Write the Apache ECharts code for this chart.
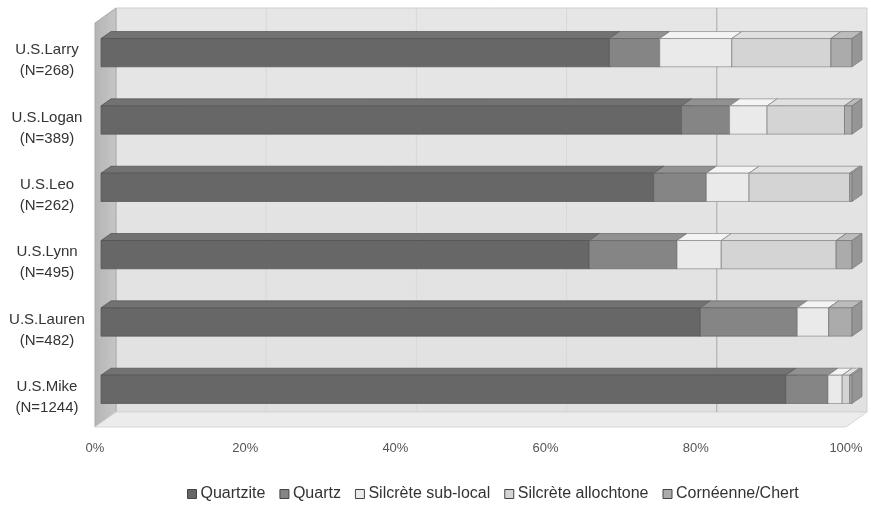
<!DOCTYPE html>
<html>
<head>
<meta charset="utf-8">
<script src="https://cdn.jsdelivr.net/npm/echarts@6/dist/echarts.min.js"></script>
<style>
  html, body { margin: 0; padding: 0; background: #ffffff; }
  #chart { width: 871px; height: 506px; }
</style>
</head>
<body>
<div id="chart"></div>
<script>
// Raw material shares (%) for each excavation unit
const sites = ['U.S.Larry\n(N=268)', 'U.S.Logan\n(N=389)', 'U.S.Leo\n(N=262)',
               'U.S.Lynn\n(N=495)', 'U.S.Lauren\n(N=482)', 'U.S.Mike\n(N=1244)'];
const seriesNames = ['Quartzite', 'Quartz', 'Silcrète sub-local', 'Silcrète allochtone', 'Cornéenne/Chert'];
const quartzite  = [67.7, 77.3, 73.6, 65.0, 79.8, 91.2];
const quartz     = [6.7, 6.4, 7.0, 11.7, 12.9, 5.6];
const subLocal   = [9.6, 5.0, 5.7, 5.9, 4.2, 1.9];
const allochtone = [13.2, 10.3, 13.4, 15.3, 0.0, 1.0];
const chert      = [2.8, 1.0, 0.3, 2.1, 3.1, 0.3];
const tickValues = [0, 20, 40, 60, 80, 100];

const valueSets = [quartzite, quartz, subLocal, allochtone, chert];

// Face shades for each material: front, top, side
const shades = [
  { front: '#676767', top: '#727272', side: '#555555', edge: '#505050' },
  { front: '#858585', top: '#919191', side: '#6f6f6f', edge: '#666666' },
  { front: '#eaeaea', top: '#f4f4f4', side: '#cfcfcf', edge: '#8a8a8a' },
  { front: '#d4d4d4', top: '#e0e0e0', side: '#bcbcbc', edge: '#8a8a8a' },
  { front: '#ababab', top: '#bcbcbc', side: '#959595', edge: '#777777' }
];

// Depth of the whole box and of each bar
const BOX_DX = 21, BOX_DY = -15;
const BAR_OX = 6, BAR_OY = -4;
const BAR_DX = 10, BAR_DY = -7;

// Build stacked [category, start, end] triples
const stacked = valueSets.map(() => []);
sites.forEach((_, i) => {
  let acc = 0;
  valueSets.forEach((vals, k) => {
    stacked[k].push([i, acc, acc + vals[i]]);
    acc += vals[i];
  });
});

function renderWalls(params, api) {
  const cs = params.coordSys;
  const x = cs.x, y = cs.y, w = cs.width, h = cs.height;
  const children = [];
  // back wall
  children.push({ type: 'rect', shape: { x: x + BOX_DX, y: y + BOX_DY, width: w, height: h },
    style: { fill: new echarts.graphic.LinearGradient(0, 0, 0, 1, [
      { offset: 0, color: '#e6e6e6' }, { offset: 1, color: '#e1e1e1' }]), stroke: '#cfcfcf', lineWidth: 1 } });
  // left wall
  children.push({ type: 'polygon', shape: { points: [[x, y], [x + BOX_DX, y + BOX_DY], [x + BOX_DX, y + h + BOX_DY], [x, y + h]] },
    style: { fill: new echarts.graphic.LinearGradient(0, 0, 1, 0, [
      { offset: 0, color: '#b4b4b4' }, { offset: 1, color: '#c6c6c6' }]), stroke: '#a8a8a8', lineWidth: 1 } });
  // floor
  children.push({ type: 'polygon', shape: { points: [[x, y + h], [x + BOX_DX, y + h + BOX_DY], [x + w + BOX_DX, y + h + BOX_DY], [x + w, y + h]] },
    style: { fill: '#ececec', stroke: '#d6d6d6', lineWidth: 1 } });
  // vertical gridlines on the back wall
  tickValues.slice(1, -1).forEach(v => {
    const gx = api.coord([v, 0])[0];
    const col = v === 80 ? '#a9a9a9' : '#d8d8d8';
    children.push({ type: 'polyline', shape: { points: [[gx + BOX_DX, y + h + BOX_DY], [gx + BOX_DX, y + BOX_DY]] },
      style: { fill: null, stroke: col, lineWidth: 1 } });
  });
  return { type: 'group', children };
}

function makeBoxRenderer(shade) {
  return function (params, api) {
    const cat = api.value(0), s = api.value(1), e = api.value(2);
    if (!(e - s > 0)) return;
    const p0 = api.coord([s, cat]);
    const p1 = api.coord([e, cat]);
    const band = api.size([0, 1])[1];
    const h = band * 0.42;
    const x0 = p0[0] + BAR_OX, x1 = p1[0] + BAR_OX;
    const yc = p0[1] + BAR_OY;
    const yt = yc - h / 2, yb = yc + h / 2;
    const edge = { stroke: shade.edge, lineWidth: 0.7 };
    return {
      type: 'group',
      children: [
        { type: 'polygon', shape: { points: [[x0, yt], [x0 + BAR_DX, yt + BAR_DY], [x1 + BAR_DX, yt + BAR_DY], [x1, yt]] },
          style: Object.assign({ fill: shade.top }, edge) },
        { type: 'rect', shape: { x: x0, y: yt, width: x1 - x0, height: yb - yt },
          style: Object.assign({ fill: shade.front }, edge) },
        { type: 'polygon', shape: { points: [[x1, yt], [x1 + BAR_DX, yt + BAR_DY], [x1 + BAR_DX, yb + BAR_DY], [x1, yb]] },
          style: Object.assign({ fill: shade.side }, edge) }
      ]
    };
  };
}

const chart = echarts.init(document.getElementById('chart'), null, { renderer: 'canvas' });

const series = [{
  type: 'custom',
  name: 'walls',
  z: 1,
  silent: true,
  renderItem: renderWalls,
  data: [[0]]
}];
seriesNames.forEach((name, k) => {
  series.push({
    type: 'custom',
    name: name,
    z: 2,
    encode: { x: [1, 2], y: 0 },
    itemStyle: { color: shades[k].front, borderColor: shades[k].edge, borderWidth: 1 },
    renderItem: makeBoxRenderer(shades[k]),
    data: stacked[k]
  });
});

const hiddenAxis = { show: true, axisLine: { show: false }, axisTick: { show: false }, splitLine: { show: false } };

chart.setOption({
  animation: false,
  backgroundColor: '#ffffff',
  textStyle: { fontFamily: 'Liberation Sans, Arial, sans-serif' },
  grid: [
    { left: 95, right: 25, top: 23, bottom: 79 },
    // label grid: same rows, nudged down slightly for the unit names
    { left: 95, right: 25, top: 27, bottom: 75 }
  ],
  xAxis: [
    Object.assign({}, hiddenAxis, {
      gridIndex: 0, type: 'value', min: 0, max: 100, interval: 20,
      axisLabel: { formatter: '{value}%', color: '#555555', fontSize: 13, margin: 15 }
    }),
    { gridIndex: 1, type: 'value', min: 0, max: 100, show: false }
  ],
  yAxis: [
    Object.assign({}, hiddenAxis, {
      gridIndex: 0, type: 'category', data: sites, inverse: true, axisLabel: { show: false }
    }),
    Object.assign({}, hiddenAxis, {
      gridIndex: 1, type: 'category', data: sites, inverse: true,
      axisLabel: { color: '#333333', fontSize: 15, lineHeight: 21, align: 'center', margin: 48 }
    })
  ],
  legend: {
    left: 182, top: 481,
    itemWidth: 9, itemHeight: 9, itemGap: 14,
    textStyle: { color: '#333333', fontSize: 16, padding: [0, 0, 0, -1] },
    data: seriesNames.map((n, k) => ({ name: n, icon: 'rect',
      itemStyle: { color: shades[k].front, borderColor: '#444444', borderWidth: 1 } }))
  },
  series: series
});
</script>
</body>
</html>
